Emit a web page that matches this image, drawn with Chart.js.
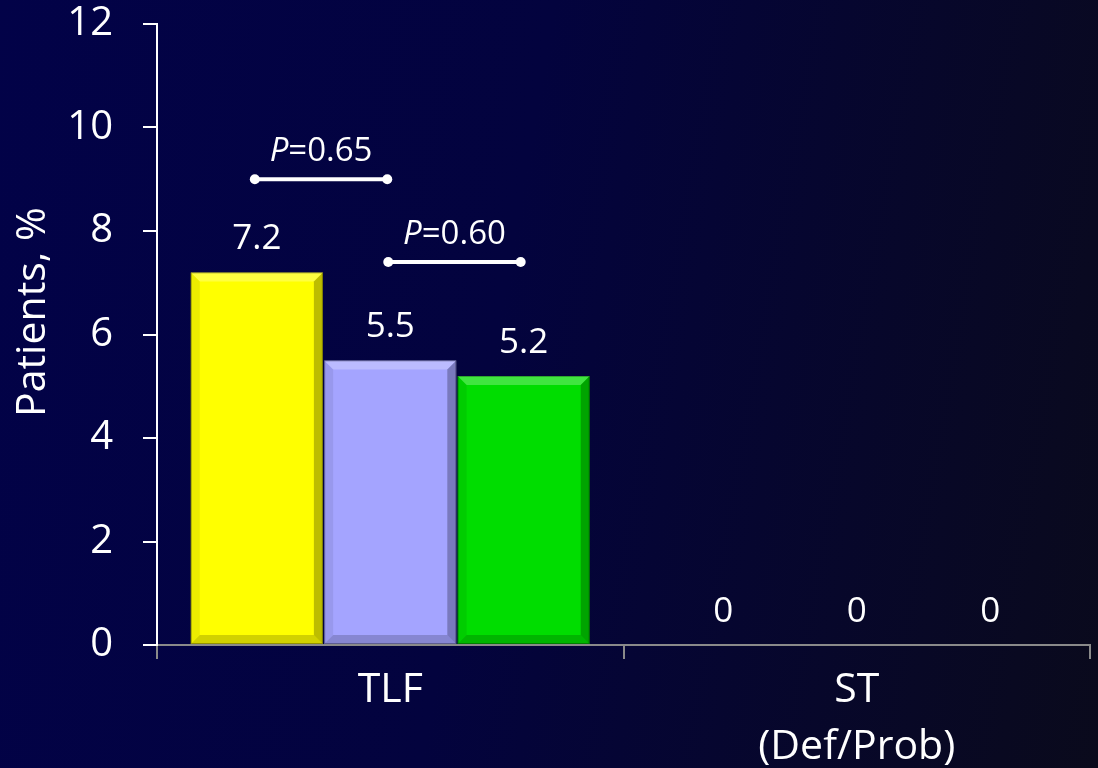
<!DOCTYPE html>
<html>
<head>
<meta charset="utf-8">
<script src="https://cdn.jsdelivr.net/npm/chart.js@4"></script>
<style>
  html, body { margin: 0; padding: 0; }
  body {
    width: 1098px; height: 768px; overflow: hidden;
    background: linear-gradient(100deg, #020248 0%, #03033e 45%, #0a0a1c 100%);
  }
  #wrap { width: 1098px; height: 768px; position: relative; }
</style>
</head>
<body>
<div id="wrap"><canvas id="chart"></canvas></div>
<script>
// Outcome categories (multi-line label for the second group)
const categories = ['TLF', ['ST', '(Def/Prob)']];

// Event rates per arm, % of patients
const armYellow = [7.2, 0];
const armLavender = [5.5, 0];
const armGreen = [5.2, 0];

// Y axis ticks
const yTicks = [0, 2, 4, 6, 8, 10, 12];

// Pairwise comparisons within TLF: p-value text, compared arms, bracket level (%)
const pValues = ['0.65', '0.60'];
const pFromArm = [0, 1];
const pToArm = [1, 2];
const pLevels = [9.0, 7.4];

const FONT = '"Open Sans", "DejaVu Sans", sans-serif';
const WHITE = '#ffffff';

// Bevelled look on every bar
const bevelPlugin = {
  id: 'bevel',
  afterDatasetsDraw(chart) {
    const ctx = chart.ctx;
    chart.data.datasets.forEach((ds, di) => {
      const meta = chart.getDatasetMeta(di);
      meta.data.forEach(el => {
        const p = el.getProps(['x', 'y', 'base', 'width'], true);
        const l = p.x - p.width / 2, r = p.x + p.width / 2;
        const t = Math.min(p.y, p.base), b = Math.max(p.y, p.base);
        if (b - t < 2) return;
        const s = Math.min(9, (b - t) / 2);
        const poly = (pts, fill) => {
          ctx.beginPath();
          ctx.moveTo(pts[0][0], pts[0][1]);
          for (let i = 1; i < pts.length; i++) ctx.lineTo(pts[i][0], pts[i][1]);
          ctx.closePath();
          ctx.fillStyle = fill;
          ctx.fill();
        };
        ctx.save();
        poly([[l, t], [r, t], [r - s, t + s], [l + s, t + s]], 'rgba(255,255,255,0.25)');
        poly([[r, t], [r, b], [r - s, b - s], [r - s, t + s]], 'rgba(0,0,0,0.26)');
        poly([[l, b], [r, b], [r - s, b - s], [l + s, b - s]], 'rgba(0,0,0,0.18)');
        poly([[l, t], [l + s, t + s], [l + s, b - s], [l, b]], 'rgba(0,0,0,0.07)');
        ctx.strokeStyle = 'rgba(0,0,0,0.3)';
        ctx.lineWidth = 1;
        ctx.strokeRect(l + 0.5, t + 0.5, r - l - 1, b - t - 1);
        ctx.restore();
      });
    });
  }
};

// Value labels above the bars, p-value brackets, rotated y title
const annotatePlugin = {
  id: 'annotate',
  afterDraw(chart) {
    const ctx = chart.ctx;
    const yScale = chart.scales.y;
    ctx.save();
    ctx.fillStyle = WHITE;
    ctx.textAlign = 'center';
    ctx.textBaseline = 'alphabetic';
    ctx.font = '35px ' + FONT;
    chart.data.datasets.forEach((ds, di) => {
      const meta = chart.getDatasetMeta(di);
      meta.data.forEach((el, i) => {
        const v = ds.data[i];
        ctx.fillText(String(v), el.x, el.y - 23);
      });
    });

    // p-value brackets
    pValues.forEach((pv, k) => {
      const a = chart.getDatasetMeta(pFromArm[k]).data[0];
      const b = chart.getDatasetMeta(pToArm[k]).data[0];
      const y = yScale.getPixelForValue(pLevels[k]);
      const x1 = a.x - 2, x2 = b.x - 3;
      ctx.strokeStyle = WHITE;
      ctx.lineWidth = 4;
      ctx.beginPath();
      ctx.moveTo(x1, y);
      ctx.lineTo(x2, y);
      ctx.stroke();
      [x1, x2].forEach(x => {
        ctx.beginPath();
        ctx.arc(x, y, 5, 0, Math.PI * 2);
        ctx.fill();
      });
      const italic = 'italic 33px ' + FONT;
      const normal = '33px ' + FONT;
      ctx.font = italic;
      const wP = ctx.measureText('P').width;
      ctx.font = normal;
      const wRest = ctx.measureText('=' + pv).width;
      const start = (x1 + x2) / 2 - (wP + wRest) / 2;
      ctx.textAlign = 'left';
      ctx.font = italic;
      ctx.fillText('P', start, y - 18);
      ctx.font = normal;
      ctx.fillText('=' + pv, start + wP, y - 18);
      ctx.textAlign = 'center';
    });

    // y axis title
    ctx.save();
    ctx.translate(33, 312);
    ctx.rotate(-Math.PI / 2);
    ctx.font = '41px ' + FONT;
    ctx.textBaseline = 'middle';
    ctx.textAlign = 'center';
    ctx.fillText('Patients, %', 0, 0);
    ctx.restore();
    ctx.restore();
  }
};

new Chart(document.getElementById('chart'), {
  type: 'bar',
  data: {
    labels: categories,
    datasets: [
      { data: armYellow, backgroundColor: '#ffff00' },
      { data: armLavender, backgroundColor: '#a4a4ff' },
      { data: armGreen, backgroundColor: '#00dd00' }
    ]
  },
  options: {
    responsive: true,
    maintainAspectRatio: false,
    animation: false,
    events: [],
    layout: { padding: { top: 24, right: 8, left: 0, bottom: 0 } },
    plugins: { legend: { display: false }, tooltip: { enabled: false } },
    datasets: { bar: { categoryPercentage: 0.858, barPercentage: 0.99 } },
    scales: {
      x: {
        grid: { offset: true, drawOnChartArea: false, color: '#8a8a8a', lineWidth: 2, tickLength: 14 },
        border: { color: '#8a8a8a', width: 2 },
        ticks: { color: WHITE, font: { family: FONT, size: 41, lineHeight: 1.38 }, padding: 3, maxRotation: 0 },
        afterFit(s) { s.height = 123; s.paddingLeft = 0; s.paddingRight = 0; }
      },
      y: {
        min: 0, max: 12,
        afterBuildTicks(s) { s.ticks = yTicks.map(v => ({ value: v })); },
        grid: { drawOnChartArea: false, color: WHITE, lineWidth: 2, tickLength: 14 },
        border: { color: WHITE, width: 2 },
        ticks: { color: WHITE, font: { family: FONT, size: 40 }, padding: 30 },
        afterFit(s) { s.width = 157; s.paddingTop = 0; s.paddingBottom = 0; }
      }
    }
  },
  plugins: [bevelPlugin, annotatePlugin]
});
</script>
</body>
</html>
